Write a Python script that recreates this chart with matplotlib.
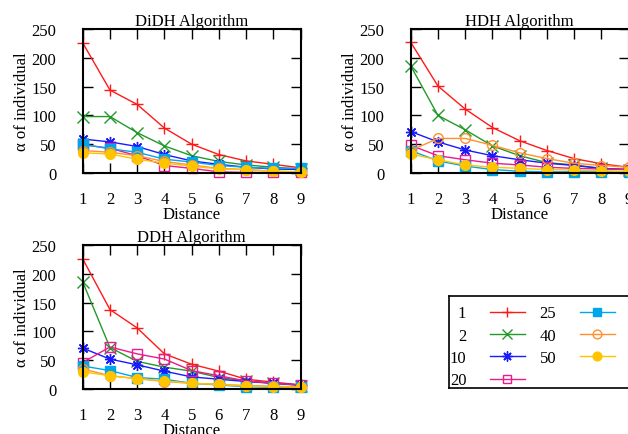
import numpy as np
import matplotlib.pyplot as plt

plt.rcParams['font.family'] = ['Liberation Serif', 'DejaVu Serif']
plt.rcParams['font.size'] = 12

# distance values on the x axis
distance = [1, 2, 3, 4, 5, 6, 7, 8, 9]
series_names = ['1', '2', '10', '20', '25', '40', '50']

# DiDH algorithm
didh_1 = [226, 144, 119, 78, 50, 32, 21, 15, 9]
didh_2 = [98, 98, 70, 47, 30, 20, 14, 10, 7]
didh_10 = [59, 54, 46, 32, 21, 15, 10, 7, 6]
didh_20 = [49, 43, 30, 13, 8, 2, 1, 1, 1]
didh_25 = [50, 42, 36, 24, 19, 13, 10, 8, 8]
didh_40 = [39, 36, 30, 20, 14, 8, 6, 3, 2]
didh_50 = [35, 33, 24, 17, 12, 7, 6, 3, 2]

# HDH algorithm
hdh_1 = [227, 151, 111, 79, 56, 39, 25, 16, 10]
hdh_2 = [186, 100, 75, 47, 30, 18, 14, 8, 6]
hdh_10 = [72, 54, 40, 30, 23, 17, 13, 8, 6]
hdh_20 = [48, 30, 23, 17, 14, 10, 8, 7, 6]
hdh_25 = [39, 21, 12, 6, 3, 2, 2, 2, 1]
hdh_40 = [39, 60, 60, 48, 35, 25, 17, 13, 10]
hdh_50 = [33, 23, 14, 10, 8, 6, 5, 4, 3]

# DDH algorithm
ddh_1 = [226, 138, 106, 61, 43, 31, 17, 12, 7]
ddh_2 = [186, 72, 48, 38, 31, 20, 14, 10, 6]
ddh_10 = [71, 52, 42, 31, 21, 17, 13, 10, 7]
ddh_20 = [46, 73, 61, 52, 32, 23, 14, 10, 7]
ddh_25 = [40, 32, 20, 17, 10, 7, 4, 3, 3]
ddh_40 = [35, 23, 18, 13, 10, 8, 6, 5, 3]
ddh_50 = [30, 23, 18, 14, 10, 8, 5, 4, 3]

colors = ['#ff1a1a', '#22992a', '#1a1aff', '#ec1a8c', '#00a6ea', '#ff9030', '#ffc400']
markers = ['+', 'x', (8, 2, 0), 's', 's', 'o', 'o']
filled = [True, True, True, False, True, False, True]

fig = plt.figure(figsize=(6.28, 4.35), dpi=100)
ax1 = fig.add_axes([0.1317, 0.600, 0.347, 0.331])
ax2 = fig.add_axes([0.654, 0.600, 0.347, 0.331])
ax3 = fig.add_axes([0.1317, 0.1034, 0.347, 0.331])


def draw_panel(ax, data, title):
    for vals, name, c, m, f in zip(data, series_names, colors, markers, filled):
        ax.plot(distance, vals, color=c, lw=1, marker=m, ms=7 if m in ('s', 'o') else 8,
                mew=1, markerfacecolor=c if f else 'none', markeredgecolor=c,
                label=name, clip_on=False)
    ax.set_xlim(1, 9)
    ax.set_ylim(0, 250)
    ax.set_xticks(distance)
    ax.set_yticks([0, 50, 100, 150, 200, 250])
    ax.tick_params(direction='in', top=True, right=True, length=7, width=1)
    ax.tick_params(axis='x', pad=13)
    ax.tick_params(axis='y', pad=19)
    for s in ax.spines.values():
        s.set_linewidth(1.5)
    ax.set_title(title, pad=3, fontsize=12)
    ax.set_xlabel('Distance', labelpad=-1)
    ax.set_ylabel('\u03b1 of individual', labelpad=1)


draw_panel(ax1, [didh_1, didh_2, didh_10, didh_20, didh_25, didh_40, didh_50], 'DiDH Algorithm')
draw_panel(ax2, [hdh_1, hdh_2, hdh_10, hdh_20, hdh_25, hdh_40, hdh_50], 'HDH Algorithm')
draw_panel(ax3, [ddh_1, ddh_2, ddh_10, ddh_20, ddh_25, ddh_40, ddh_50], 'DDH Algorithm')

# key box in its own axes, running past the right edge
axk = fig.add_axes([0.715, 1 - 389 / 435, 0.35, 92 / 435])
axk.set_xticks([])
axk.set_yticks([])
for s in axk.spines.values():
    s.set_linewidth(1.2)
handles, labels = ax1.get_legend_handles_labels()
axk.legend(handles, labels, ncol=2, markerfirst=False, frameon=False,
           loc='upper left', bbox_to_anchor=(-0.065, 1.06), handlelength=2.1,
           handletextpad=1.4, columnspacing=0.9, labelspacing=0.38,
           markerscale=0.9, fontsize=12)

fig.savefig('out.png', dpi=100)
